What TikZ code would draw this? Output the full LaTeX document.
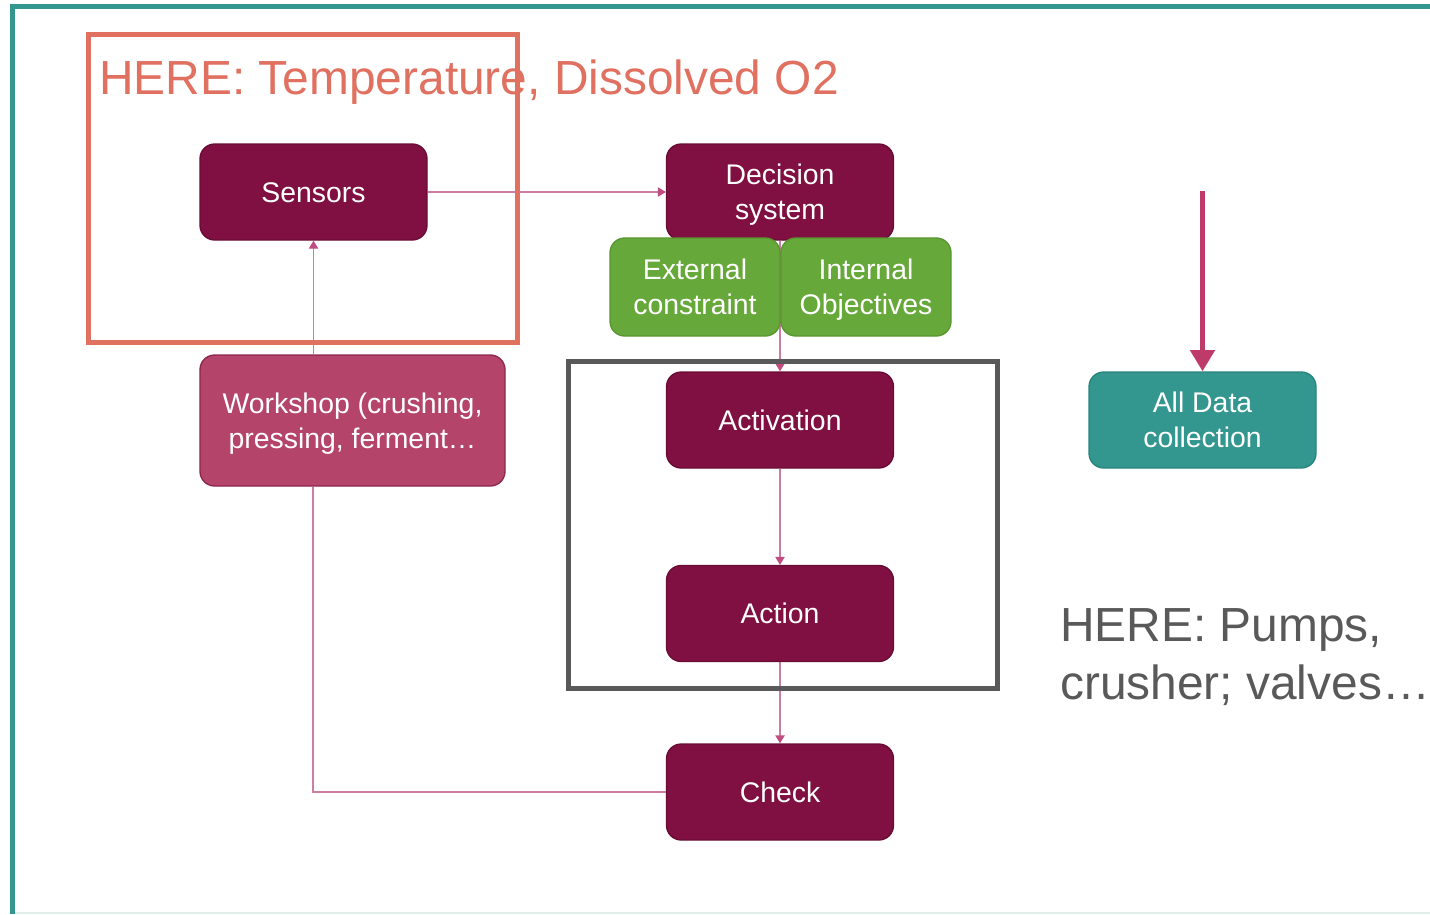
\documentclass[tikz,border=0pt]{standalone}
\usepackage{fontspec}
\setmainfont{Liberation Sans}
\usetikzlibrary{arrows.meta,backgrounds}
\definecolor{wine}{RGB}{128,16,66}
\definecolor{wineedge}{RGB}{105,12,52}
\definecolor{rose}{RGB}{181,68,106}
\definecolor{roseedge}{RGB}{140,38,78}
\definecolor{leaf}{RGB}{103,168,58}
\definecolor{leafedge}{RGB}{88,150,48}
\definecolor{teal}{RGB}{51,150,143}
\definecolor{tealedge}{RGB}{40,132,125}
\definecolor{link}{RGB}{205,125,162}
\definecolor{linktip}{RGB}{192,76,128}
\definecolor{coral}{RGB}{224,112,96}
\definecolor{slate}{RGB}{89,89,89}
\definecolor{thinrule}{RGB}{226,238,236}
\definecolor{bigarrow}{RGB}{190,58,105}
% every text line in a box gets the same height and depth, balanced on the capitals
\newcommand{\boxline}[1]{\rule[-5.4pt]{0pt}{26.25pt}#1}
\tikzset{
  box/.style={rectangle, rounded corners=11pt, text=white, align=center,
    font=\fontsize{21.3}{26.25}\selectfont, line width=1pt, inner sep=0pt},
  winebox/.style={box, fill=wine, draw=wineedge, minimum width=170.25pt, minimum height=72pt},
  rosebox/.style={box, fill=rose, draw=roseedge, minimum width=228.75pt, minimum height=98.25pt},
  leafbox/.style={box, fill=leaf, draw=leafedge, minimum width=127.5pt, minimum height=73.5pt},
  tealbox/.style={box, fill=teal, draw=tealedge, minimum width=170.25pt, minimum height=72pt},
  link/.style={draw=link, line width=1pt},
  linkarrow/.style={link, -{Triangle[length=6pt,width=7pt,fill=linktip,color=linktip]}},
  frame/.style={line width=3.75pt},
  bigtext/.style={font=\fontsize{35.9}{43.5}\selectfont, inner sep=0pt, align=left}
}
\begin{document}
\begin{tikzpicture}[x=0.75pt, y=-0.75pt]
\useasboundingbox (0,0) rectangle (1430,914);

% outer slide frame
\draw[thinrule, line width=1.2pt] (12,913) -- (1430,913);
\draw[teal, frame] (12.5,914) -- (12.5,6.5) -- (1430,6.5);

% process nodes
\node[winebox] (sensors) at (313.5,192) {\boxline{Sensors}};
\node[winebox] (decision) at (780,192) {\boxline{Decision}\\\boxline{system}};
\node[leafbox] (external) at (695,287) {\boxline{External}\\\boxline{constraint}};
\node[leafbox] (internal) at (866,287) {\boxline{Internal}\\\boxline{Objectives}};
\node[winebox] (activation) at (780,420) {\boxline{Activation}};
\node[winebox] (action) at (780,613.5) {\boxline{Action}};
\node[winebox] (check) at (780,792) {\boxline{Check}};
\node[rosebox] (workshop) at (352.5,420.5) {\boxline{Workshop (crushing,}\\\boxline{pressing, ferment\ldots}};
\node[tealbox] (alldata) at (1202.5,420) {\boxline{All Data}\\\boxline{collection}};

% connectors, kept behind the boxes
\begin{scope}[on background layer]
\draw[linkarrow] (sensors.east) -- (decision.west);
\draw[linkarrow] (workshop.north -| sensors.south) -- (sensors.south);
\draw[linkarrow] (decision.south) -- (activation.north);
\draw[linkarrow] (activation.south) -- (action.north);
\draw[linkarrow] (action.south) -- (check.north);
\coordinate (loopcorner) at (313,792);
\draw[link] (check.west) -- (loopcorner) -- (workshop.south -| loopcorner);
\end{scope}

% data collection arrow
\coordinate (feed) at (1202.5,191);
\draw[bigarrow, line width=3.75pt, -{Triangle[length=16pt,width=18pt]}] (feed) -- (alldata.north);

% highlight frames
\draw[coral, frame] (88.5,34) rectangle (517.5,342.5);
\draw[slate, frame] (568.5,361) rectangle (997.5,688.5);

% annotations
\node[bigtext, text=coral, anchor=base west] (sensornote) at (99,94) {HERE: Temperature, Dissolved O2};
\node[bigtext, text=slate, anchor=base west] (actionnote) at (1060,699) {HERE: Pumps,\\crusher; valves\ldots};
\end{tikzpicture}
\end{document}
